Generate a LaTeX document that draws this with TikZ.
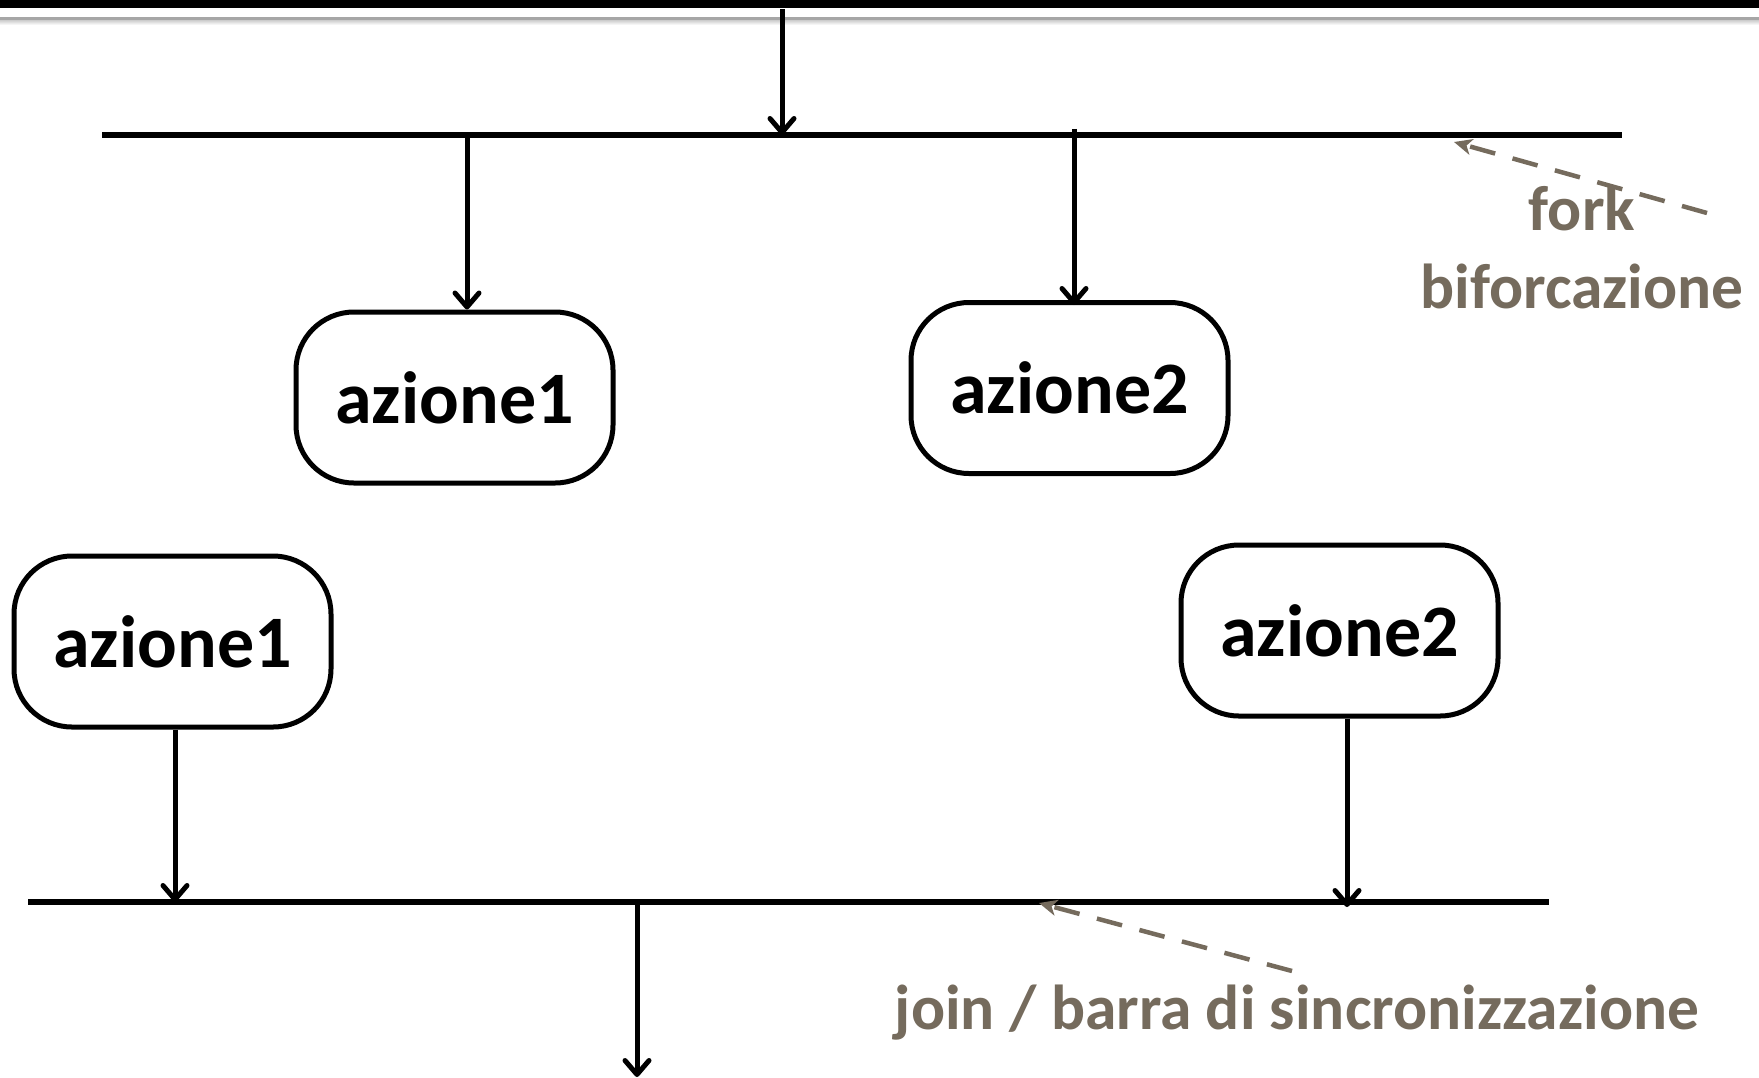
\documentclass[tikz,border=0pt]{standalone}
\usepackage{fontspec}
\setmainfont{Carlito}
\usetikzlibrary{arrows.meta,calc}
\definecolor{lblc}{RGB}{117,107,93}
\tikzset{
  bar/.style={fill=black,draw=none,inner sep=0pt,minimum height=6pt},
  actbox/.style={draw=black,line width=5pt,rounded corners=58pt,minimum width=317pt,minimum height=171pt,inner sep=0pt,font=\fontsize{74}{78}\selectfont\bfseries},
  arr/.style={line width=5pt,-{Straight Barb[length=14pt,width=24pt,line cap=round,line join=round]}},
  note/.style={text=lblc,font=\fontsize{63.5}{78}\selectfont\bfseries,inner sep=0pt,align=center},
  notearr/.style={draw=lblc,line width=4.5pt,dash pattern=on 26pt off 18pt,-{Stealth[length=18pt,width=16pt,inset=5pt]}}
}
\begin{document}
\begin{tikzpicture}[x=1pt,y=-1pt]
\useasboundingbox (0,0) rectangle (1759,1077);
% header band
\fill[black] (0,0) rectangle (1759,8);
\fill[gray!70] (0,17) rectangle (1759,20);
\shade[top color=gray!40,bottom color=white] (0,20) rectangle (1759,25);
% bars
\node[bar,minimum width=1520pt] (fork) at (862,135) {};
\node[bar,minimum width=1521pt] (join) at (788.5,902) {};
% actions
\node[actbox] (a1t) at (454.5,397.5) {azione1};
\node[actbox] (a2t) at (1069.5,388) {azione2};
\node[actbox] (a1b) at (172.5,641.5) {azione1};
\node[actbox] (a2b) at (1339.5,630.5) {azione2};
% flow arrows
\coordinate (src) at (782,9);
\coordinate (sink) at (637,1077);
\draw[arr] (src) -- (src |- fork.center);
\draw[arr] ([xshift=12.5pt]a1t.north |- fork.center) -- ([xshift=12.5pt]a1t.north);
\draw[arr] ([xshift=4.5pt,yshift=3pt]a2t.north |- fork.north) -- ([xshift=4.5pt,yshift=-5pt]a2t.north);
\draw[arr] ([xshift=2.5pt]a1b.south) -- ([xshift=2.5pt]a1b.south |- join.center);
\draw[arr] ([xshift=7.5pt]a2b.south) -- ([xshift=7.5pt,yshift=-5pt]a2b.south |- join.center);
\draw[arr] (join.center -| sink) -- (sink);
% notes
\node[note] (forklbl) at (1582,247) {fork\\biforcazione};
\node[note] (joinlbl) at (1297,1013) {join / barra di sincronizzazione};
\coordinate (fs) at (1707,213);
\coordinate (ft) at (1454,142);
\coordinate (js) at (1292,971);
\coordinate (jt) at (1039,903);
\draw[notearr] (fs) -- (ft);
\draw[notearr] (js) -- (jt);
\end{tikzpicture}
\end{document}
